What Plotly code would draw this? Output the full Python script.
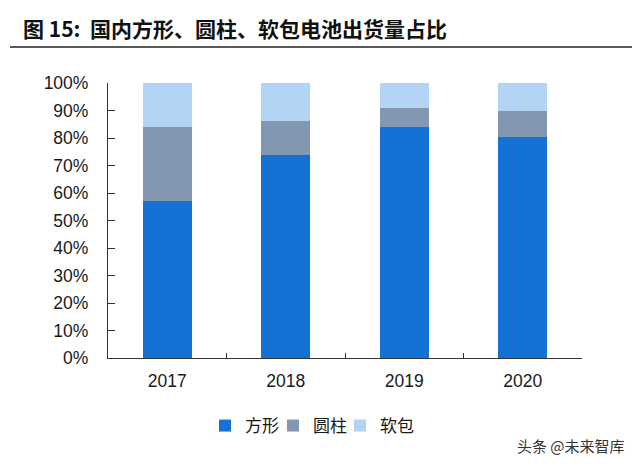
import plotly.graph_objects as go

years = ["2017", "2018", "2019", "2020"]
prismatic = [0.571, 0.738, 0.841, 0.805]
cylindrical = [0.270, 0.124, 0.068, 0.094]
pouch = [0.159, 0.138, 0.091, 0.101]

series_names = ["方形", "圆柱", "软包"]
colors = ["#1372D4", "#8497B0", "#B4D4F5"]

# page body has an 8px margin; lay out in screen pixels and shift
OFF = 8
W, H = 640 - OFF, 466 - OFF
L, R, T, B = 108 - OFF, 640 - 582, 83 - OFF, 466 - 358
pw, ph = W - L - R, H - T - B

def px(x):
    return (x - OFF - L) / pw

def py(y):
    return (H - B - (y - OFF)) / ph

legend_ids = ["legend", "legend2", "legend3"]
legend_x = [205, 273, 340]

fig = go.Figure()
for name, vals, c, lid in zip(series_names, [prismatic, cylindrical, pouch], colors, legend_ids):
    fig.add_trace(go.Bar(x=years, y=vals, name=name, marker=dict(color=c, line=dict(width=0)),
                         width=0.41, legend=lid))

leg_common = dict(orientation="h", yanchor="middle", xanchor="left",
                  font=dict(size=17, family="Noto Sans CJK SC", color="#1a1a1a"),
                  itemwidth=30, bgcolor="rgba(0,0,0,0)")

fig.update_layout(
    barmode="stack",
    width=W, height=H,
    margin=dict(l=L, r=R, t=T, b=B, autoexpand=False),
    plot_bgcolor="white", paper_bgcolor="white",
    font=dict(family="Arial, Liberation Sans, Noto Sans CJK SC", color="#1a1a1a"),
    showlegend=True,
    legend=dict(x=px(legend_x[0]), y=py(426), **leg_common),
    legend2=dict(x=px(legend_x[1]), y=py(426), **leg_common),
    legend3=dict(x=px(legend_x[2]), y=py(426), **leg_common),
    xaxis=dict(showline=True, linecolor="#333", linewidth=1.2, ticks="inside", ticklen=5,
               tickcolor="#333", tickson="boundaries", tickfont=dict(size=17.5, color="#1a1a1a"),
               showgrid=False, automargin=False, ticklabelstandoff=7),
    yaxis=dict(range=[0, 1], tickformat=".0%", dtick=0.1, showline=True, linecolor="#333",
               linewidth=1.2, ticks="inside", ticklen=7, tickcolor="#333", showgrid=False,
               zeroline=False, tickfont=dict(size=17.5, color="#1a1a1a"), automargin=False,
               ticklabelstandoff=15),
)

fig.add_annotation(text="<b>图 15:  国内方形、圆柱、软包电池出货量占比</b>", xref="paper", yref="paper",
                   x=px(21), y=py(28), xanchor="left", yanchor="middle", showarrow=False,
                   font=dict(size=21, family="Noto Sans CJK SC", color="#111"))
fig.add_shape(type="line", xref="paper", yref="paper", x0=px(10), x1=px(640), y0=py(47), y1=py(47),
              line=dict(color="#222", width=1.5))
fig.add_annotation(text="头条 @未来智库", xref="paper", yref="paper",
                   x=px(627), y=py(445), xanchor="right", yanchor="middle", showarrow=False,
                   font=dict(size=15, family="Noto Sans CJK SC", color="#333"))

fig.write_html("out.html")
